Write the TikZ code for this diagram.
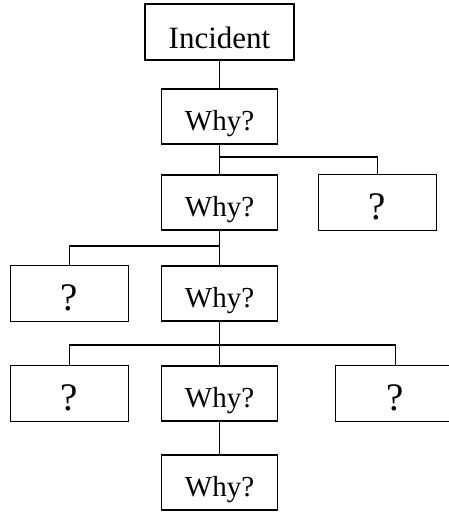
\documentclass[tikz,border=0pt]{standalone}
\usepackage{fontspec}
\setmainfont{Liberation Serif}
\usetikzlibrary{positioning}

\begin{document}
\begin{tikzpicture}[
  x=1pt,y=1pt,
  every node/.style={font=\fontsize{29}{35}\selectfont,align=center},
  why/.style={draw,line width=1.3pt,outer sep=0pt,inner sep=0pt,minimum width=116pt,minimum height=55pt,
    text height=27pt,text depth=0pt},
  ask/.style={why,minimum width=118pt,minimum height=56pt,font=\fontsize{39}{45}\selectfont,text height=34pt},
  link/.style={line width=1.3pt}
]
\useasboundingbox (0,0) rectangle (448,-514);
\node[why,minimum width=149pt,minimum height=56pt,font=\fontsize{31}{37}\selectfont,text height=32pt] (inc) at (219.5,-32) {Incident};
\node[why,below=29pt of inc] (why1) {Why?};
\node[why,below=31pt of why1] (why2) {Why?};
\node[ask,right=41pt of why2] (q1) {?};
\node[why,below=36pt of why2] (why3) {Why?};
\node[ask,left=33pt of why3] (q2) {?};
\node[why,below=45pt of why3] (why4) {Why?};
\node[ask,left=33pt of why4] (q3) {?};
\node[ask,minimum width=120pt,right=58pt of why4] (q4) {?};
\node[why,below=34pt of why4] (why5) {Why?};
\draw[link] (inc)--(why1); \draw[link] (why1)--(why2); \draw[link] (why2)--(why3);
\draw[link] (why3)--(why4); \draw[link] (why4)--(why5);
\draw[link] ([yshift=18pt]why2.north) -| (q1.north);
\draw[link] ([yshift=20pt]why3.north) -| (q2.north);
\draw[link] ([yshift=21pt]why4.north) -| (q3.north);
\draw[link] ([yshift=21pt]why4.north) -| (q4.north);
\end{tikzpicture}
\end{document}
